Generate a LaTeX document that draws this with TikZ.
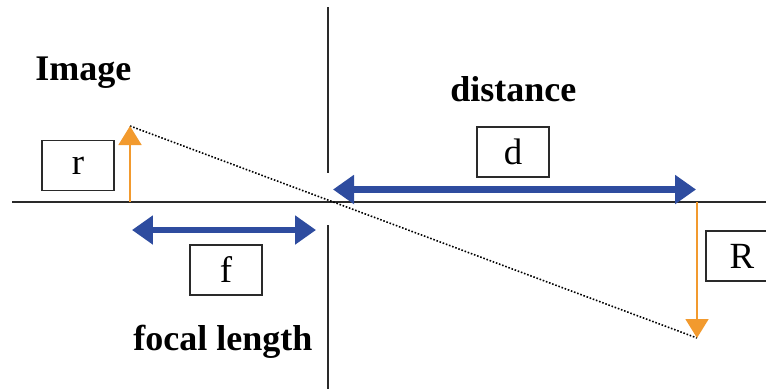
\documentclass[tikz,border=0pt]{standalone}
\usepackage{fontspec}
\setmainfont{Liberation Serif}
\usepackage{xcolor}
\usepackage{tikz}
\usetikzlibrary{arrows.meta,positioning}
\definecolor{raycol}{HTML}{2E4C9F}
\definecolor{objcol}{HTML}{F29A2E}
\definecolor{axiscol}{HTML}{2A2A2A}

\begin{document}
\begin{tikzpicture}[
  x=0.02cm,y=-0.02cm,
  lbl/.style={font=\fontsize{20.5}{24}\selectfont\bfseries,inner sep=0pt},
  symbox/.style={draw=axiscol,line width=0.8pt,minimum width=1.44cm,minimum height=1cm,
                 inner sep=0pt,font=\fontsize{21}{24}\selectfont},
  dimar/.style={{Triangle[length=4.2mm,width=5.6mm]}-{Triangle[length=4.2mm,width=5.6mm]},
                line width=1.3mm,raycol},
  objar/.style={-{Triangle[length=3.8mm,width=4.6mm]},line width=1pt,objcol},
  ray/.style={densely dotted,line width=0.9pt},
  axis/.style={line width=0.8pt,axiscol},
]
\useasboundingbox (0,0) rectangle (766,389);

\coordinate (axisL) at (12,202);
\coordinate (axisR) at (766,202);
\coordinate (lensT) at (328,7);
\coordinate (lensU) at (328,173);
\coordinate (lensD) at (328,225);
\coordinate (lensB) at (328,389);
\coordinate (rfoot) at (130,202);
\coordinate (rtip) at (130,126);
\coordinate (Rfoot) at (697,202);
\coordinate (Rtip) at (697,338);
\coordinate (fL) at (132,230);
\coordinate (fR) at (316,230);
\coordinate (dL) at (333,189.5);
\coordinate (dR) at (696,189.5);

\node[lbl,anchor=base west] (image) at (35,80) {Image};
\node[lbl,anchor=base west] (dist) at (450,101) {distance};
\node[lbl,anchor=base west] (focal) at (133,350) {focal length};

\node[symbox] (rbox) at (78,165.5) {r};
\node[symbox] (fbox) at (226,270) {f};
\node[symbox] (dbox) at (513,152) {d};
\node[symbox] (Rbox) at (742,256) {R};

\draw[axis] (axisL) -- (axisR);
\draw[axis] (lensT) -- (lensU);
\draw[axis] (lensD) -- (lensB);

\draw[ray] (rtip) -- (Rtip);
\draw[objar] (rfoot) -- (rtip);
\draw[objar] (Rfoot) -- (Rtip);

\draw[dimar] (fL) -- (fR);
\draw[dimar] (dL) -- (dR);
\end{tikzpicture}
\end{document}
